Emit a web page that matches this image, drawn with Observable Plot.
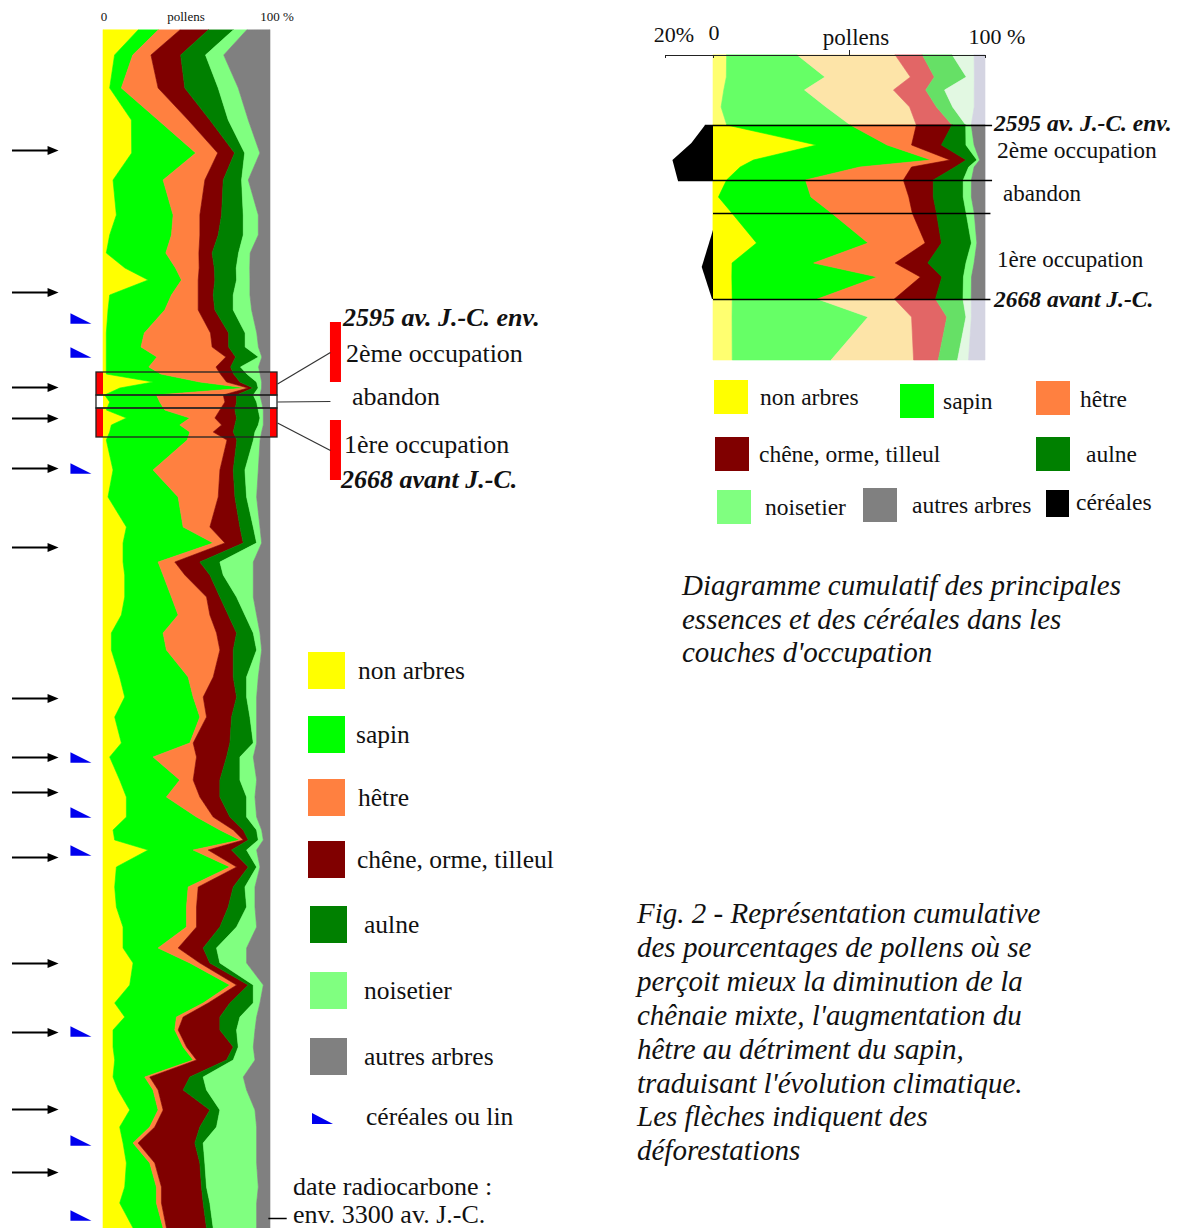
<!DOCTYPE html>
<html><head><meta charset="utf-8">
<script src="https://cdn.jsdelivr.net/npm/d3@7"></script>
<script src="https://cdn.jsdelivr.net/npm/@observablehq/plot@0.6"></script>
<style>
body{margin:0;background:#fff;}
#page{position:relative;width:1179px;height:1228px;overflow:hidden;font-family:"Liberation Serif","Times New Roman",serif;color:#111;background:#fff;}
.abs{position:absolute;white-space:nowrap;line-height:1.2;}
.holder{position:absolute;}
</style></head><body><div id="page"></div>
<script>
// ---------- shared series ----------
const seriesKeys = ["non arbres","sapin","hêtre","chêne, orme, tilleul","aulne","noisetier","autres arbres"];
const fullColors = ["#ffff00","#00ff00","#ff8040","#800000","#008000","#80ff80","#808080"];
const fadedColors = ["#ffff70","#66ff66","#fde4a8","#e26666","#66e066","#e2f8e2","#d4d4e2"];

// ---------- left diagram (depth units, top = 0) ----------
const depthL = [0,25,58,90,123,150,185,205,223,238,250,265,280,303,317,327,337,344,352,358,365,372,380,388,395,402,410,440,467,497,513,532,545,567,585,603,620,647,667,687,713,727,750,767,787,800,810,820,837,857,877,897,918,933,955,973,987,1000,1017,1030,1047,1060,1080,1097,1113,1133,1157,1173,1198];
const nonArbresL = [21,7,4,17,17,6,8,4,2,13,27,4,3,2,2,2,2,2,30,10,1,4,2,14,5,4,2,6,3,14,12,12,13,13,11,5,5,10,13,7,11,4,10,14,14,6,7,27,8,7,8,12,12,18,16,7,13,6,6,7,6,9,16,10,12,14,13,10,18];
const sapinL = [12,11,7,16,38,30,34,37,36,30,20,37,34,23,21,31,26,33,28,75,31,30,35,38,41,48,49,24,42,34,54,21,23,28,34,31,33,41,41,51,41,26,36,24,42,64,75,27,68,44,42,38,21,34,60,53,31,37,42,47,19,21,17,18,6,14,19,22,18];
const hetreL = [13,11,22,18,13,25,16,17,20,14,10,16,20,40,43,42,41,36,16,1,40,39,33,15,25,14,24,40,24,16,7,10,13,21,19,32,32,15,6,4,2,26,8,20,10,8,2,9,4,6,6,6,12,6,4,3,4,2,2,2,3,3,3,3,3,3,3,3,2];
const cheneL = [17,18,16,13,10,11,13,11,8,9,10,9,10,11,10,6,9,8,8,3,8,7,9,13,8,12,6,8,10,18,11,15,15,8,11,12,8,12,20,15,22,18,16,12,10,6,3,14,7,21,19,14,15,6,7,13,22,25,28,18,24,15,28,27,34,27,24,25,24];
const aulneL = [15,15,20,11,6,11,13,15,16,13,13,12,11,10,10,14,6,8,10,3,10,12,14,14,14,13,10,7,7,8,8,12,8,10,10,10,14,8,6,11,14,8,12,16,10,8,6,9,5,7,11,10,8,6,3,14,12,10,3,4,8,14,6,10,5,3,3,4,4];
const noisetierL = [8,11,12,12,9,4,9,9,7,8,8,10,11,7,8,2,11,8,3,2,4,3,3,2,3,4,4,8,6,4,3,20,18,10,7,4,3,7,6,4,2,8,10,5,6,3,3,6,2,6,5,12,18,16,6,4,10,11,9,13,24,24,21,24,32,31,31,28,26];
const autresL = [14,28,19,13,6,13,7,7,12,12,12,12,11,8,7,5,7,6,5,5,6,5,4,4,4,5,6,7,8,6,5,10,10,10,8,6,5,7,8,8,8,10,8,9,8,5,4,8,6,9,9,8,14,14,4,6,8,9,10,9,16,14,9,8,8,8,7,8,8];

const deforestationDepths = [120,262,357,388,438,517,668,727,762,827,933,1002,1079,1142];
const cerealLinDepths = [288,322,438,727,782,820,1001,1110,1185];
const radiocarbonDepth = [1188];

const bandNames = ["2ème occupation","abandon","1ère occupation"];
const bandTopL = [342,365,378];
const bandBottomL = [365,378,407];

// ---------- right diagram ----------
const depthR = [0,22,35,52,70,90,105,112,125,142,158,188,208,222,244,262,305];
const nonArbresR = [5,5,4,3,5,38,15,10,5,2,7,16,7,7,7,7,7];
const sapinR = [26,37,30,39,45,26,66,44,29,34,37,41,30,54,31,50,36];
const hetreR = [36,32,33,31,24,9,7,19,36,36,30,21,30,16,28,16,30];
const cheneR = [10,9,12,10,13,11,6,16,11,9,9,6,12,8,15,13,9];
const aulneR = [11,12,7,6,5,9,4,5,11,11,11,11,14,8,10,7,7];
const noisetierR = [8,3,11,8,2,3,1,2,3,3,3,2,3,3,3,2,4];
const autresR = [4,4,4,4,5,4,2,4,5,5,4,3,4,5,5,5,6];
const bandTopR = [70,125,158];
const bandBottomR = [125,158,244];
const cerealDepth2 = [70,88,105,125];
const cereal2 = [3.3,9,16.9,14.7];
const cerealDepth1 = [175,212,244];
const cereal1 = [0,4.7,0.4];

// ---------- build tables ----------
const seriesL = [nonArbresL,sapinL,hetreL,cheneL,aulneL,noisetierL,autresL];
const seriesR = [nonArbresR,sapinR,hetreR,cheneR,aulneR,noisetierR,autresR];
const tidyL = [];
depthL.forEach((d,i)=>seriesL.forEach((arr,j)=>tidyL.push({depth:d,key:seriesKeys[j],value:arr[i],color:fullColors[j]})));
const tidyR = [];
depthR.forEach((d,i)=>seriesR.forEach((arr,j)=>tidyR.push({depth:d,key:seriesKeys[j],value:arr[i],color:fullColors[j],faded:fadedColors[j]})));
const bandsL = bandNames.map((name,i)=>({name,top:bandTopL[i],bottom:bandBottomL[i],occupied:name!=="abandon"}));
const cerealsR = [
  ...cerealDepth2.map((d,i)=>({band:"2",depth:d,value:cereal2[i]})),
  ...cerealDepth1.map((d,i)=>({band:"1",depth:d,value:cereal1[i]}))
];

// symbols
const arrowHead = {draw(ctx,size){const r=Math.sqrt(size/Math.PI);ctx.moveTo(r,0);ctx.lineTo(-r,-0.8*r);ctx.lineTo(-r,0.8*r);ctx.closePath();}};
const wedge = {draw(ctx,size){const r=Math.sqrt(size/Math.PI);ctx.moveTo(-r,-0.5*r);ctx.lineTo(-r,0.5*r);ctx.lineTo(r,0.5*r);ctx.closePath();}};

const page = document.getElementById("page");
function place(node,left,top){const h=document.createElement("div");h.className="holder";h.style.left=left+"px";h.style.top=top+"px";h.appendChild(node);page.appendChild(h);}
function label(text,x,cy,size,opts={}){
  const d=document.createElement("div");d.className="abs";d.textContent=text;
  d.style.fontSize=size+"px";d.style.top=cy+"px";
  let tx = opts.anchor==="middle"?"-50%":"0";
  d.style.transform=`translate(${tx},-50%)`;d.style.left=x+"px";
  if(opts.bold)d.style.fontWeight="bold";if(opts.italic)d.style.fontStyle="italic";
  page.appendChild(d);return d;
}
function box(x,y,w,h,color){const d=document.createElement("div");d.style.cssText=`position:absolute;left:${x}px;top:${y}px;width:${w}px;height:${h}px;background:${color};`;page.appendChild(d);}

// ---------- left plot ----------
const zoomBar = {x1:1.359,x2:1.425,tops:[292,352,390],bottoms:[352,390,450]};
const areaOpts = {y:"depth",x:"value",z:"key",offset:"normalize",order:seriesKeys,strokeWidth:0.6};
const leftPlot = Plot.plot({
  width:600,height:1228,marginLeft:103,marginRight:330,marginTop:30,marginBottom:0,
  style:{background:"transparent",overflow:"visible"},
  x:{domain:[0,1],axis:null},y:{domain:[0,1198],reverse:true,axis:null},color:{type:"identity"},
  marks:[
    Plot.areaX(tidyL,{...areaOpts,fill:"color",stroke:"color"}),
    Plot.rect(bandsL.filter(b=>b.occupied),{y1:"top",y2:"bottom",x1:-0.042,x2:0,fill:"#ff0000"}),
    Plot.rect(bandsL.filter(b=>b.occupied),{y1:"top",y2:"bottom",x1:1,x2:1.042,fill:"#ff0000"}),
    Plot.rect(bandsL.filter(b=>!b.occupied),{y1:"top",y2:"bottom",x1:-0.042,x2:0,fill:"#ffffff"}),
    Plot.rect(bandsL.filter(b=>!b.occupied),{y1:"top",y2:"bottom",x1:1,x2:1.042,fill:"#ffffff"}),
    Plot.rect(bandsL,{y1:"top",y2:"bottom",x1:-0.042,x2:1.042,fill:"none",stroke:"#222",strokeWidth:1.3}),
    Plot.rect(bandsL,{y1:(b,i)=>zoomBar.tops[i],y2:(b,i)=>zoomBar.bottoms[i],x1:zoomBar.x1,x2:zoomBar.x2,fill:b=>b.occupied?"#ff0000":"#ffffff"}),
    Plot.link(bandsL,{x1:1.042,y1:b=>(b.top+b.bottom)/2,x2:zoomBar.x1,y2:(b,i)=>(zoomBar.tops[i]+zoomBar.bottoms[i])/2,stroke:"#333",strokeWidth:1.2}),
    Plot.ruleY(deforestationDepths,{x1:-0.545,x2:-0.31,stroke:"#000",strokeWidth:2}),
    Plot.dot(deforestationDepths,{y:d=>d,x:-0.302,symbol:arrowHead,r:5.5,fill:"#000"}),
    Plot.dot(cerealLinDepths,{y:d=>d,x:-0.135,symbol:wedge,r:10.5,fill:"#0000ee"}),
    Plot.ruleY(radiocarbonDepth,{x1:0.99,x2:1.1,stroke:"#000",strokeWidth:1.5})
  ]
});
place(leftPlot,0,0);

// ---------- right plot ----------
const full = tidyR.filter(d=>d.depth>=bandTopR[0]&&d.depth<=bandBottomR[2]);
const rightPlot = Plot.plot({
  width:539,height:370,marginLeft:73,marginRight:194,marginTop:55,marginBottom:10,
  style:{background:"transparent",overflow:"visible"},
  x:{domain:[0,1],axis:null},y:{domain:[0,305],reverse:true,axis:null},color:{type:"identity"},
  marks:[
    Plot.areaX(tidyR,{...areaOpts,fill:"faded",stroke:"faded"}),
    Plot.areaX(full,{...areaOpts,fill:"color",stroke:"color"}),
    Plot.ruleY([bandTopR[0]],{x1:-0.03,x2:1.026,stroke:"#000",strokeWidth:1.5}),
    Plot.ruleY([bandBottomR[0]],{x1:-0.129,x2:1.026,stroke:"#000",strokeWidth:1.5}),
    Plot.ruleY([bandBottomR[1],bandBottomR[2]],{x1:0,x2:1.02,stroke:"#000",strokeWidth:1.5}),
    Plot.ruleY([0],{x1:0,x2:1,stroke:"#222",strokeWidth:1}),
    Plot.ruleX([0,1],{y1:0,y2:3,stroke:"#222"}),
    Plot.ruleX([0.5],{y1:-5,y2:0,stroke:"#222"})
  ]
});
place(rightPlot,640,0);
const cerealPlot = Plot.plot({
  width:539,height:370,marginLeft:25,marginRight:466,marginTop:55,marginBottom:10,
  style:{background:"transparent",overflow:"visible"},
  x:{domain:[0,20],reverse:true,axis:null},y:{domain:[0,305],reverse:true,axis:null},
  marks:[
    Plot.areaX(cerealsR,{y:"depth",x1:0,x2:"value",z:"band",fill:"#000"}),
    Plot.ruleY([0],{x1:0,x2:20,stroke:"#222"}),
    Plot.ruleX([20],{y1:0,y2:3,stroke:"#222"})
  ]
});
place(cerealPlot,640,0);

// ---------- texts ----------
label("0",104,17,13,{anchor:"middle"});
label("pollens",186,17,13,{anchor:"middle"});
label("100 %",277,17,13,{anchor:"middle"});

label("2595 av. J.-C. env.",343,318,26,{bold:true,italic:true});
label("2ème occupation",346,354,26);
label("abandon",352,397,26);
label("1ère occupation",344,445,26);
label("2668 avant J.-C.",341,480,26,{bold:true,italic:true});

// left legend
const legTopsL=[652,716,779,841,906,972,1038];
const legXL=[308,308,308,308,310,310,310];
const legLabelXL=[358,356,358,357,364,364,364];
seriesKeys.forEach((k,i)=>{box(legXL[i],legTopsL[i],37,37,fullColors[i]);label(k,legLabelXL[i],legTopsL[i]+19,25.5);});
{
  const s=document.createElementNS("http://www.w3.org/2000/svg","svg");
  s.setAttribute("width",22);s.setAttribute("height",12);s.style.cssText="position:absolute;left:312px;top:1113px;";
  s.innerHTML='<path d="M0,0L0,11L21,11Z" fill="#0000ee"/>';page.appendChild(s);
  label("céréales ou lin",366,1117,25.5);
}
label("date radiocarbone :",293,1187,26);
label("env. 3300 av. J.-C.",293,1215,26);

// right chart labels
label("20%",674,35,22,{anchor:"middle"});
label("0",714,33,22,{anchor:"middle"});
label("pollens",856,38,23,{anchor:"middle"});
label("100 %",997,37,22,{anchor:"middle"});
label("2595 av. J.-C. env.",994,123,23.5,{bold:true,italic:true});
label("2ème occupation",997,150,23.5);
label("abandon",1003,194,23);
label("1ère occupation",997,260,23);
label("2668 avant J.-C.",994,299,23.5,{bold:true,italic:true});

// right legend
const legR=[[714,380,760,397],[900,384,943,401],[1036,381,1080,399],[715,437,759,454],[1036,437,1086,454],[717,490,765,507],[863,488,912,505]];
seriesKeys.forEach((k,i)=>{const p=legR[i];box(p[0],p[1],34,34,fullColors[i]);label(k,p[2],p[3],23.5);});
box(1046,490,23,27,"#000");label("céréales",1076,502,23.5);

// captions
function para(lines,x,cy0,step,size){lines.forEach((t,i)=>label(t,x,cy0+i*step,size,{italic:true}));}
para(["Diagramme cumulatif des principales","essences et des céréales dans les","couches d'occupation"],682,585,33.5,29);
para(["Fig. 2 - Représentation cumulative","des pourcentages de pollens où se","perçoit mieux la diminution de la","chênaie mixte, l'augmentation du","hêtre au détriment du sapin,","traduisant l'évolution climatique.","Les flèches indiquent des","déforestations"],637,913,33.9,29);
</script></body></html>
